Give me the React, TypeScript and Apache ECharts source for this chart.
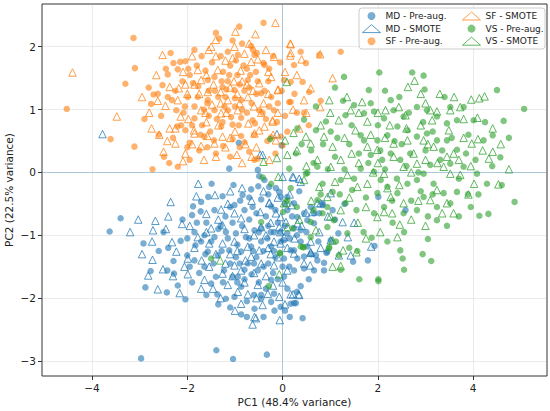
import React, { useEffect, useRef } from 'react';
import * as echarts from 'echarts';

const MD_PRE = [
  [-0.92,0.47],[-0.02,0.43],[-1.12,0.06],[-0.49,-0.06],[-0.52,0.04],[-0.38,-0.12],[-0.28,-0.23],[-0.07,-0.31],[0.10,-0.39],[0.24,-0.49],[0.45,-0.65],[0.59,-0.55],[0.77,-0.65],[0.84,-0.49],[1.05,-0.60],[0.66,-0.81],[0.38,-0.92],[0.03,-1.08],[0.24,-1.24],[0.45,-1.34],[0.73,-1.40],[0.87,-1.56],
  [-1.49,-0.18],[-1.03,-0.20],[-0.84,-0.36],[-0.66,-0.27],[-0.51,-0.22],[-0.14,-0.25],[-0.04,-0.39],[-0.45,-0.43],[-0.89,-0.45],[-1.26,-0.38],[-1.56,-0.39],[-1.71,-0.47],[-1.88,-0.54],[-1.90,-0.68],[-1.72,-0.62],[-1.43,-0.60],[-1.01,-0.52],[-0.63,-0.55],[-0.24,-0.54],[0.10,-0.60],[0.31,-0.71],[0.52,-0.76],[0.24,-0.89],[0.10,-0.97],[-0.18,-0.95],[-0.45,-0.89],[-0.59,-0.92],[-0.77,-1.03],[-0.98,-0.97],[-1.19,-0.95],[-1.43,-1.03],[-1.64,-1.00],[-1.85,-0.95],[-1.71,-1.10],[-1.83,-1.16],[-1.57,-1.26],[-1.85,-1.40],[-1.95,-1.50],[-1.36,-1.32],[-1.12,-1.24],[-0.87,-1.26],[-0.66,-1.18],[-0.45,-1.10],[-0.24,-1.18],[-0.04,-1.10],[0.17,-1.24],[0.38,-1.10],[0.66,-1.56],[0.45,-1.53],[0.24,-1.56],[0.03,-1.66],[-0.24,-1.71],[-0.52,-1.56],[-0.73,-1.45],[-0.94,-1.66],[-0.87,-1.82],[-1.05,-1.66],[-1.19,-2.01],[-1.01,-1.98],[-1.37,-1.94],[-0.59,-2.17],[-0.45,-2.01],[-0.18,-1.93],[-0.04,-2.14],[0.05,-2.20],[-0.87,-2.26],[-0.24,-2.06],[0.24,-2.08],[0.38,-1.81],[0.42,-2.32],[0.03,-1.37],[0.14,-1.50],[0.31,-1.37],[0.70,-1.32],[1.01,-1.08],[0.52,-1.18],[0.66,-0.65],[0.84,-0.52],[0.94,-1.26],
  [-3.40,-0.73],[-3.63,-0.94],[-2.92,-1.13],[-2.77,-1.57],[-2.88,-1.83],[-2.43,-1.91],[-2.04,-2.02],[-2.42,-1.56],[-2.28,-1.61],[-2.14,-1.09],[-2.29,-1.41],[-2.00,-1.32],[-1.40,-1.66],[-1.23,-1.56],[-1.64,-1.50],[-1.50,-1.77],
  [-2.97,-2.96],[-1.39,-2.83],[-1.04,-2.97],[-0.33,-2.90],
  [2.58,-0.60],[2.01,-0.39],[1.79,-1.40],[1.17,-0.97],[1.48,-1.42],[0.87,-1.44],[0.92,-1.28],[1.93,-1.17],[1.30,-0.50],[1.10,-0.75],[0.17,-2.09],[0.28,-2.08],[-0.17,-2.20],[0.30,-1.90],
  [-0.70,-0.75],[-0.55,-1.35],[-0.30,-1.45],[-0.10,-0.80],[-0.35,-0.70],[-0.80,-1.55],[-1.10,-1.45],[-1.30,-0.85],[-0.95,-1.15],[-0.20,-1.60],[0.05,-0.85],[-0.60,-1.95],[-0.75,-2.05],[-1.60,-0.80],[-2.10,-0.75],[-2.40,-1.20],[-1.25,-1.75],[-0.40,-1.25],[0.10,-1.85],[-0.15,-1.35],
  [-0.95,-1.75],[-0.80,-1.70],[-0.65,-1.62],[-0.50,-1.75],[-0.35,-1.85],[-0.10,-1.70],[0.00,-1.50],[-0.18,-1.25],[-0.32,-1.05],[-0.50,-0.95],[-0.70,-1.05],[-0.85,-0.85],[-1.05,-0.80],[-1.20,-0.70],[-1.35,-0.90],[-1.50,-1.10],[-1.62,-1.30],[-1.45,-1.45],[-1.28,-1.25],[-1.15,-1.05],[-0.98,-1.35],[-0.62,-1.25],[-0.40,-1.50],[-0.15,-0.60],[0.05,-0.50],[0.20,-0.70],[0.30,-1.00],[0.50,-0.95],[0.60,-1.30],[0.15,-1.05],[-0.05,-0.95],[-0.30,-0.85],[-0.55,-0.65],[-0.80,-0.60],[-1.10,-0.55],[-0.70,-0.40],[-0.30,-0.35],[-1.80,-0.80],[-2.00,-1.05],[-1.75,-1.60],[-1.60,-1.95],[-1.35,-2.10],[-1.10,-2.15],[-0.75,-2.30],[-0.40,-2.30],[0.15,-2.30],[-0.90,-1.45],[-0.25,-0.95],[-0.45,-1.95],[-0.60,-1.45],[-2.60,-1.25],[-2.50,-0.95],[-2.20,-1.80],[-1.90,-1.75],[0.55,-1.70],[0.75,-1.10],[0.35,-0.30]
];

const MD_SMOTE = [
  [-3.78,0.61],[-3.03,-0.75],[-2.67,-0.77],[-2.72,-0.92],[-2.74,-1.10],[-2.73,-1.39],[-2.82,-1.64],[-2.62,-1.86],[-2.16,-1.92],[-2.51,-1.54],[-2.35,-0.47],[-2.11,-0.82],[-2.32,-1.11],[-2.23,-1.26],[-0.63,-2.42],[-0.06,-2.35],[-0.56,-2.32],[-0.12,0.61],[-0.47,0.28],[0.38,-0.15],[0.21,-0.07],[1.01,-1.08],[1.37,-1.03],[1.43,-1.32],[1.18,-1.32],[0.59,-1.27],[1.86,-1.18],[0.22,-1.94],[0.33,-1.94],
  [-1.77,-0.18],[-1.42,-0.36],[-1.81,-0.38],[-1.15,-0.50],[-1.29,-0.59],[-1.60,-0.66],[-1.01,-0.65],[-0.87,-0.73],[-0.47,-0.63],[-0.28,-0.48],[-0.04,-0.71],[0.19,-0.52],[0.35,-0.10],[0.23,-0.08],[-1.26,-0.84],[-1.50,-0.89],[-1.78,-1.03],[-1.54,-1.13],[-1.26,-1.13],[-1.01,-1.10],[-0.73,-1.18],[-0.49,-1.24],[-0.18,-1.10],[0.03,-1.03],[-0.07,-0.87],[-0.35,-1.00],[0.24,-1.29],[0.59,-1.28],[0.58,-1.48],[-1.01,-1.48],[-1.26,-1.61],[-1.54,-1.50],[-1.99,-1.37],[-2.06,-1.50],[-1.99,-1.62],[-1.71,-1.85],[-1.46,-1.85],[-1.64,-1.71],[-1.15,-1.79],[-0.94,-1.90],[-0.87,-2.09],[-0.73,-1.94],[-0.52,-1.79],[-0.42,-2.11],[-0.31,-1.93],[-0.07,-1.98],[0.17,-1.94],[0.35,-1.95],[-0.59,-2.30],[-0.18,-1.48],[0.10,-1.56],[-0.66,-1.34],[-0.87,-1.56],[0.59,-1.10],[0.77,-0.95],[0.49,-0.64],[0.73,-0.49],
  [0.00,-0.07],[-0.28,-0.49],[-0.14,-0.65],[0.07,-0.79],[0.31,-0.81],[0.63,-0.63],[0.80,-0.49],[1.01,-0.33],[1.26,-0.79],[-0.04,-1.13],[-0.45,-0.87],[-0.42,0.28],
  [-0.60,-1.00],[-0.25,-1.30],[-0.80,-0.90],[-1.10,-1.30],[-0.35,-1.65],[0.00,-1.75],[-2.40,-0.70],[-1.95,-0.85],
  [-0.95,-1.25],[-0.78,-1.40],[-0.60,-1.60],[-0.45,-1.45],[-0.30,-1.20],[-0.10,-1.35],[0.10,-1.20],[0.25,-1.05],[0.40,-0.85],[0.15,-0.35],[-0.10,-0.40],[-0.40,-0.30],[-0.65,-0.45],[-0.85,-0.25],[-1.10,-0.30],[-1.35,-0.75],[-1.60,-0.95],[-1.85,-1.20],[-1.70,-1.40],[-1.40,-1.30],[-1.20,-1.45],[-1.05,-1.65],[-0.80,-1.75],[-0.55,-2.00],[-0.20,-1.80],[0.05,-2.10],[-1.30,-2.00],[-1.00,-2.20],[-2.30,-1.65],[-2.45,-0.90],[-0.25,-0.80],[-0.05,-0.95],[0.45,-1.45],[0.80,-1.20],[0.95,-0.70],[1.50,-0.80],[-2.95,-1.30],[-3.20,-0.95]
];

const SF_PRE = [
  [-4.53,1.01],[-3.13,2.14],[-3.10,1.66],[-3.30,1.41],[-3.61,0.53],[-3.11,0.41],[-0.40,2.38],[-0.91,2.32],[-1.40,2.22],[1.22,1.92],[0.80,1.14],
  [-2.81,1.35],[-2.76,1.09],[-2.71,1.24],[-2.52,1.39],[-2.41,1.56],[-2.29,1.74],[-2.15,1.76],[-2.04,1.77],[-2.20,1.64],[-1.98,1.65],[-2.41,1.20],[-2.32,1.15],[-2.23,0.99],[-2.21,0.73],[-2.13,0.75],[-2.04,0.67],[-2.49,0.25],[-2.38,0.15],[-2.20,0.09],[-2.73,0.05],[-1.95,0.47],[-1.85,0.86],[-1.69,0.75],[-1.64,0.57],[-1.44,0.51],[-1.29,0.73],[-1.05,0.53],[-0.87,0.58],[-0.70,0.33],[-0.59,0.20],[-0.66,2.01],[-0.54,1.90],[-0.40,1.74],[-0.94,1.87],[-1.33,2.13],[-1.88,1.42],[-1.77,1.37],[-1.57,1.47],[-1.43,1.52],[-1.26,1.36],[-1.15,1.45],[-1.01,1.31],[-0.87,1.15],[-0.73,1.47],[-0.56,1.60],[-0.45,1.26],[-0.24,1.20],[-0.10,1.10],[-0.18,0.99],[-0.49,0.99],[-0.63,0.83],[-0.87,0.87],[-1.15,0.99],[-1.43,0.99],[-1.57,1.15],[-1.78,1.20],[-1.99,1.20],[-2.05,1.05],[-1.26,0.80],[-1.05,0.76],[0.14,1.12],[0.03,1.47],[-0.24,0.56],
  [-0.59,1.87],[-0.38,1.71],[0.17,1.12],[0.24,1.71],[0.49,1.74],[0.38,1.92],[0.77,1.87],[0.56,1.28],[0.17,1.44],[-0.04,0.57],[0.00,0.43],[0.42,1.44],[-0.52,0.22],
  [-1.20,1.20],[-1.00,1.05],[-0.80,1.30],[-0.65,1.10],[-1.35,1.20],[-1.55,1.30],[-0.95,1.55],[-1.10,1.70],[-0.75,1.65],[-1.25,1.60],[-1.65,1.00],[-1.85,1.05],[-0.30,1.45],[-0.35,0.85],[-1.40,0.30],[-0.90,0.40],[-2.60,0.60],[-2.90,0.85],[-1.70,1.85],[-1.55,0.90],[-0.60,0.60],[-1.10,0.25],[-2.35,1.90],[-0.20,1.85],[-0.15,0.30],[0.30,0.95],[0.55,0.75],[-0.85,2.05],[-1.75,0.35],[-1.95,0.20],
  [-1.62,1.62],[-1.48,1.75],[-1.30,1.85],[-1.15,1.92],[-0.98,1.78],[-0.82,1.70],[-0.68,1.55],[-0.52,1.45],[-0.38,1.30],[-0.28,1.05],[-0.42,0.95],[-0.58,0.78],[-0.75,0.95],[-0.92,0.75],[-1.08,0.88],[-1.22,1.05],[-1.38,0.85],[-1.52,0.65],[-1.72,0.60],[-1.90,0.75],[-2.08,0.95],[-2.25,1.30],[-2.10,1.45],[-1.95,1.55],[-1.80,1.70],[-1.58,1.10],[-1.42,1.30],[-1.28,1.45],[-1.12,1.55],[-0.90,1.40],[-0.70,1.35],[-0.55,1.25],[-0.85,1.00],[-1.00,1.18],[-1.18,1.32],[-0.62,1.95],[-0.28,1.65],[-0.05,1.75],[-0.12,0.80],[-0.32,0.50],[-0.80,0.48],[-1.25,0.42],[-1.58,0.40],[-2.00,0.40],[-2.30,0.55],[-2.55,0.90],[-2.62,1.25],[-2.45,1.65],[-1.85,1.95],[-1.05,2.10],[0.05,0.90],[0.25,1.25],[-0.02,1.30],[0.45,0.95],[0.10,0.65]
];

const SF_SMOTE = [
  [-4.41,1.59],[-2.52,1.87],[-3.48,0.89],[-0.15,2.38],[-0.99,2.24],[-0.57,2.20],[1.05,1.50],[0.79,1.04],[0.79,1.88],
  [-1.50,2.00],[-1.40,2.11],[-1.01,2.00],[-0.80,1.89],[-0.18,1.84],[0.16,2.05],[0.16,1.86],[-2.37,1.36],[-2.62,1.14],[-2.46,1.06],[-2.14,0.89],[-2.37,0.70],[-2.59,0.60],[-2.42,0.50],[-2.25,0.46],[-2.50,0.33],[-2.04,0.30],[-2.09,0.18],[-1.86,0.67],[-1.85,0.62],[-1.71,0.42],[-1.43,0.46],[-1.26,0.57],[-0.96,0.28],[-1.40,0.25],[-0.59,0.62],[-0.21,0.83],[-0.09,1.32],[-0.24,1.52],[-2.09,1.60],[-1.78,1.63],[-1.71,1.47],[-2.18,1.34],[-2.04,1.40],[-1.57,1.28],[-1.36,1.63],[-1.05,1.82],[-0.66,1.76],[-0.49,1.42],[-1.15,1.15],[-0.73,1.20],[-0.94,0.99],[-1.29,0.94],[-1.71,0.99],[-0.49,0.67],[-0.38,0.73],[-0.72,0.78],
  [0.17,2.04],[0.17,1.90],[-0.10,1.31],[0.45,1.15],[0.22,1.00],[-0.21,0.81],[-0.14,0.51],[-0.28,0.20],[0.59,1.34],
  [-1.10,1.35],[-0.85,1.45],[-1.30,1.10],[-0.60,1.05],[-1.60,0.80],[-0.40,1.10],[-1.00,0.65],[-0.85,0.15],[-2.80,0.95],[-1.90,1.85],[-1.20,0.40],[-0.30,1.60],[-1.45,1.40],[-0.95,1.25],[0.35,0.70],[-2.65,1.55],[-0.55,0.40],[-1.65,0.20],
  [-1.75,1.25],[-1.60,1.55],[-1.48,1.08],[-1.35,0.75],[-1.18,0.95],[-1.02,1.45],[-0.88,1.62],[-0.75,1.40],[-0.62,1.30],[-0.45,0.95],[-0.30,1.25],[-0.52,1.80],[-0.35,1.95],[-1.20,1.78],[-1.55,1.95],[-2.20,1.15],[-1.98,0.85],[-2.25,0.70],[-1.90,0.45],[-1.58,0.58],[-1.10,0.55],[-0.78,0.45],[-0.65,0.25],[-0.10,0.95],[0.05,1.60],[0.30,1.55],[0.50,0.95],[-0.90,1.10],[-1.30,1.28],[-1.62,0.95],[-2.00,1.25],[-1.85,1.40],[-0.20,0.60],[-1.40,1.85],[-2.75,0.70],[-2.95,1.20],[-0.70,2.05],[0.40,1.80]
];

const VS_PRE = [
  [1.29,1.52],[1.81,1.31],[1.27,1.14],[2.03,1.59],[2.72,1.59],[2.96,1.54],[2.98,1.32],[4.50,1.31],[5.07,1.01],[4.64,0.82],[3.66,0.83],[4.41,0.59],[4.57,0.24],[4.87,-0.47],[4.32,-0.66],[4.13,-0.69],[4.11,-0.35],[3.89,-0.35],[3.12,-1.41],[2.94,-1.30],[2.52,-1.37],[2.47,-1.24],[3.05,-1.06],[2.01,-1.70],[1.61,-1.70],[1.57,-1.25],[1.87,-1.04],[2.31,-0.80],
  [0.45,0.84],[0.91,0.81],[1.32,0.91],[1.64,0.59],[1.01,0.65],[0.70,0.67],[0.31,0.70],[0.14,0.06],[0.28,0.30],[0.52,-0.01],[0.73,0.09],[0.84,-0.18],[1.05,-0.31],[1.32,-0.49],[1.46,-0.28],[1.22,-0.12],[1.64,0.06],[1.92,0.01],[2.06,-0.12],[1.99,-0.33],[2.20,-0.23],[2.41,-0.33],[2.62,-0.18],[2.82,-0.12],[2.96,-0.02],[3.17,-0.18],[3.38,-0.33],[3.52,-0.49],[3.24,-0.55],[3.66,-0.31],[3.80,0.09],[3.52,0.14],[3.31,0.20],[3.10,0.12],[2.68,0.30],[2.47,0.20],[2.27,0.30],[2.09,0.20],[1.85,0.28],[1.71,0.51],[1.99,0.51],[2.20,0.59],[2.41,0.73],[2.62,0.67],[2.82,0.57],[3.03,0.62],[3.24,0.51],[3.45,0.51],[3.66,0.36],[3.45,0.78],[3.24,0.89],[3.03,0.99],[2.82,1.04],[2.54,0.89],[2.33,0.99],[2.13,0.86],[1.92,0.97],[1.71,0.94],[1.50,1.07],[2.27,1.15],[3.52,1.04],[3.80,1.04],[4.01,0.83],[4.22,0.51],[4.08,-0.02],[4.29,-0.18],[3.24,-0.76],[2.96,-0.39],[2.82,-0.60],[2.54,-0.65],[2.13,-0.55],[1.92,-0.65],[1.36,-0.97],[0.94,-0.87],[0.59,-1.03],[0.38,-1.18],
  [-0.42,-0.08],[-0.24,-0.18],[0.17,-0.25],[-0.45,-0.79],[0.01,-0.63],[0.10,-0.45],[-0.06,-1.28],[-0.29,-1.81],[-1.50,-1.37],[-0.26,0.53],[-0.05,-1.29],[0.43,-1.19],[0.98,-1.19],[2.01,-1.73],[1.22,-1.55],[0.49,-0.02],[0.73,-0.44],[0.94,-0.55],[1.08,-0.76],[1.12,-1.10],[1.18,-1.32],[0.97,-1.21],[0.84,-0.65],[0.59,-0.79],[0.44,-1.19],[0.21,-0.89],
  [2.50,0.45],[3.00,0.35],[2.00,0.75],[2.90,-0.30],[1.60,0.30],[3.70,-0.10],[4.40,0.10],[3.90,0.60],[1.40,0.45],[2.30,-0.45],
  [0.60,0.35],[0.85,0.45],[1.10,0.25],[1.30,0.05],[1.50,-0.10],[1.75,-0.40],[1.55,-0.60],[1.20,-0.35],[0.95,0.05],[0.65,0.15],[0.40,0.45],[1.15,0.55],[1.45,0.75],[1.85,1.10],[2.15,1.30],[2.45,1.20],[2.65,0.95],[2.95,0.80],[3.15,0.65],[3.35,0.35],[3.55,0.55],[3.85,0.30],[4.05,0.20],[3.95,-0.55],[3.70,-0.70],[3.45,-0.85],[3.05,-0.70],[2.70,-0.45],[2.40,-0.10],[2.15,0.05],[1.80,0.15],[2.05,0.35],[2.35,0.50],[2.60,0.10],[2.85,0.00],[3.15,-0.35],[2.55,-0.95],[2.20,-1.10],[1.70,-0.95],[1.40,-1.20],[0.80,-0.35],[0.30,-0.55],[0.65,-0.60],[4.25,0.80],[4.75,0.55],[4.60,-0.20],[3.40,1.20],[1.10,1.35],[0.70,1.05],[2.55,-1.55]
];

const VS_SMOTE = [
  [4.53,-0.19],[4.02,-0.18],[4.33,0.22],[4.41,0.33],[4.58,0.45],[4.41,0.70],[4.10,0.53],[3.97,0.46],[4.09,0.87],[4.24,1.21],[4.13,1.18],[3.96,1.16],[2.77,1.46],[2.63,1.36],[0.98,1.15],[2.41,-1.03],[1.05,-1.50],[1.22,-1.49],[2.46,-0.83],[1.58,-0.80],[1.27,-1.24],[1.55,-1.27],[-0.07,-1.62],[-1.31,-1.40],[0.09,1.44],[0.05,0.51],[-0.12,0.23],[-0.40,0.17],[0.10,0.28],[-0.09,-0.07],[0.09,-0.48],
  [1.67,1.12],[1.43,0.99],[1.18,0.83],[1.53,0.67],[0.87,0.57],[0.59,0.46],[0.23,0.63],[0.73,0.20],[1.01,0.09],[1.36,-0.04],[1.57,-0.23],[1.78,-0.18],[2.13,-0.02],[2.27,-0.39],[2.54,-0.49],[2.13,-0.63],[3.10,-0.44],[3.24,-0.28],[3.52,-0.02],[3.73,-0.04],[3.38,0.09],[2.82,0.14],[2.54,0.09],[2.33,0.25],[1.99,0.36],[1.78,0.41],[2.33,0.46],[2.62,0.51],[2.96,0.51],[3.17,0.41],[3.59,0.30],[3.49,0.67],[3.14,0.83],[3.10,0.99],[3.00,1.10],[3.24,0.97],[3.52,0.99],[3.73,1.04],[2.58,0.91],[2.44,1.04],[2.16,0.99],[1.78,0.81],[1.05,0.41],[1.22,0.20],[0.49,0.57],[0.45,-0.12],[0.77,-0.23],[0.94,-0.39],[1.22,-0.60],[3.45,-0.49],[3.59,-0.65],[1.99,-0.71],[1.05,-1.08],[0.70,-0.92],[0.10,-0.87],[0.03,-0.49],
  [2.00,0.15],[2.75,0.30],[1.85,0.60],[2.90,0.75],[1.45,0.30],[3.80,0.55],[2.70,-0.75],[1.75,-1.05],
  [0.80,0.75],[1.00,0.95],[1.30,0.55],[1.60,0.15],[1.90,0.00],[2.20,-0.25],[2.45,-0.20],[2.70,0.00],[3.00,0.20],[3.25,0.15],[3.45,0.25],[3.70,0.20],[3.95,0.10],[3.80,0.85],[3.60,1.20],[3.30,1.25],[2.90,1.25],[2.25,0.75],[2.00,0.95],[1.60,0.95],[1.35,1.20],[1.10,-0.15],[1.40,-0.40],[1.75,-0.55],[2.05,-0.95],[2.30,-0.65],[2.85,-0.45],[3.00,-0.85],[3.35,-0.65],[3.90,-0.35],[0.50,0.10],[0.30,0.35],[0.60,-0.45],[0.35,-0.75],[1.00,-0.70],[2.60,0.70],[3.05,0.45],[2.15,0.55],[4.20,0.35],[4.75,0.05]
];

const X_TICKS = [-4, -2, 0, 2, 4];
const Y_TICKS = [-3, -2, -1, 0, 1, 2];
const X_LABEL = 'PC1 (48.4% variance)';
const Y_LABEL = 'PC2 (22.5% variance)';

const BLUE = '#1f77b4';
const ORANGE = '#ff7f0e';
const GREEN = '#2ca02c';
const FONT = 'DejaVu Sans';

const fmt = (v: number) => {
  if (Math.abs(v - Math.round(v)) > 1e-6) return '';
  const r = Math.round(v);
  return r < 0 ? '\u2212' + Math.abs(r) : String(r);
};

export default function App() {
  const ref = useRef<HTMLDivElement>(null);
  useEffect(() => {
    const chart = echarts.init(ref.current as HTMLDivElement, null, { renderer: 'svg' });
    const circle = (name: string, data: number[][], color: string, extra: any = {}) => ({
      name, type: 'scatter', data, symbol: 'circle', symbolSize: 6.5,
      itemStyle: { color, opacity: 0.6 }, z: 2, ...extra,
    });
    const tri = (name: string, data: number[][], color: string) => ({
      name, type: 'scatter', data, symbol: 'triangle', symbolSize: 7.5,
      itemStyle: { color: 'rgba(0,0,0,0)', borderColor: color, borderWidth: 1, opacity: 0.75 }, z: 2,
    });
    const legendText = { fontSize: 9, lineHeight: 12, color: '#222', fontFamily: FONT };
    const option: any = {
      animation: false,
      textStyle: { fontFamily: FONT },
      grid: { left: 42, right: 3, top: 4, bottom: 35, show: true, borderColor: '#333', borderWidth: 1, backgroundColor: 'transparent', containLabel: false, outerBoundsMode: 'none' },
      xAxis: {
        type: 'value', min: -5.05, max: 5.55,
        name: X_LABEL, nameLocation: 'middle', nameGap: 20, nameMoveOverlap: false,
        nameTextStyle: { fontSize: 10.5, color: '#222', fontFamily: FONT },
        axisLine: { show: false, onZero: false },
        axisTick: { show: true, length: 4, lineStyle: { color: '#333' }, customValues: X_TICKS },
        axisLabel: { fontSize: 10.5, color: '#222', margin: 6, fontFamily: FONT, formatter: fmt, customValues: X_TICKS },
        splitLine: { show: true, lineStyle: { color: 'rgba(176,176,176,0.25)', width: 1 } },
      },
      yAxis: {
        type: 'value', min: -3.24, max: 2.68,
        name: Y_LABEL, nameLocation: 'middle', nameGap: 28, nameRotate: 90, nameMoveOverlap: false,
        nameTextStyle: { fontSize: 10.5, color: '#222', fontFamily: FONT },
        axisLine: { show: false, onZero: false },
        axisTick: { show: true, length: 4, lineStyle: { color: '#333' }, customValues: Y_TICKS },
        axisLabel: { fontSize: 10.5, color: '#222', margin: 6, fontFamily: FONT, formatter: fmt, customValues: Y_TICKS },
        splitLine: { show: true, lineStyle: { color: 'rgba(176,176,176,0.25)', width: 1 } },
      },
      legend: [
        {
          data: ['MD - Pre-aug.', { name: 'MD - SMOTE', itemStyle: { borderWidth: 1 } }, 'SF - Pre-aug.'],
          left: 362, top: 10, orient: 'vertical', itemWidth: 18, itemHeight: 8, itemGap: 0.6, padding: 0,
          textStyle: legendText, selectedMode: false, z: 6,
        },
        {
          data: [{ name: 'SF - SMOTE', itemStyle: { borderWidth: 1 } }, 'VS - Pre-aug.', { name: 'VS - SMOTE', itemStyle: { borderWidth: 1 } }],
          left: 462, top: 10, orient: 'vertical', itemWidth: 18, itemHeight: 8, itemGap: 0.6, padding: 0,
          textStyle: legendText, selectedMode: false, z: 6,
        },
      ],
      graphic: [
        {
          type: 'rect', z: 5,
          shape: { x: 359, y: 8, width: 186, height: 41, r: 3 },
          style: { fill: 'rgba(255,255,255,0.8)', stroke: '#cccccc', lineWidth: 1 },
        },
      ],
      series: [
        circle('MD - Pre-aug.', MD_PRE, BLUE, {
          markLine: {
            silent: true, symbol: ['none', 'none'], label: { show: false },
            lineStyle: { color: 'rgba(31,119,180,0.3)', type: 'solid', width: 1 },
            data: [{ xAxis: 0 }, { yAxis: 0 }],
          },
        }),
        tri('MD - SMOTE', MD_SMOTE, BLUE),
        circle('SF - Pre-aug.', SF_PRE, ORANGE),
        tri('SF - SMOTE', SF_SMOTE, ORANGE),
        circle('VS - Pre-aug.', VS_PRE, GREEN),
        tri('VS - SMOTE', VS_SMOTE, GREEN),
      ],
    };
    chart.setOption(option);
    return () => chart.dispose();
  }, []);
  return <div ref={ref} style={{ position: 'absolute', left: 0, top: 0, width: 550, height: 411 }} />;
}
